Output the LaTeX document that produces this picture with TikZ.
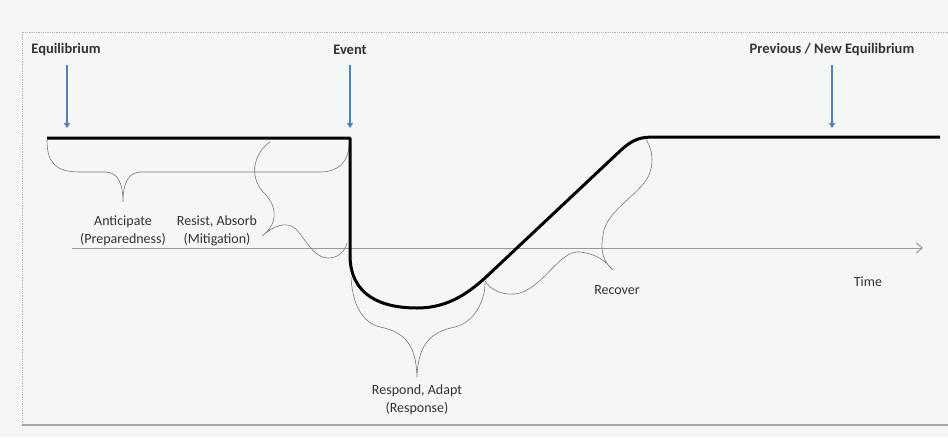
\documentclass[tikz,border=0pt]{standalone}
\usepackage{fontspec}
\setmainfont{Carlito}
\usetikzlibrary{arrows.meta}
\definecolor{bg}{RGB}{245,246,246}
\definecolor{arrowblue}{RGB}{79,129,189}
\definecolor{bracegray}{RGB}{120,120,120}
\definecolor{txtgray}{RGB}{50,50,50}
\begin{document}
\begin{tikzpicture}[x=1pt,y=-1pt,
  toplabel/.style={font=\fontsize{14.5}{16}\selectfont\bfseries, text=txtgray, inner sep=0pt, anchor=center},
  phaselabel/.style={font=\fontsize{14}{18}\selectfont, text=txtgray, inner sep=0pt, align=center, anchor=center},
  bluearrow/.style={draw=arrowblue, line width=1.3pt, -{Triangle[length=5pt,width=6pt]}},
  curve/.style={draw=black, line width=3pt, line join=round},
  bracestyle/.style={draw=bracegray, line width=0.6pt},
  axisstyle/.style={draw=gray!80, line width=1pt, -{Straight Barb[length=6pt,width=10pt]}},
  framedot/.style={draw=gray!60, line width=0.8pt, densely dotted}]
\useasboundingbox (0,0) rectangle (948,437);
\fill[bg] (0,0) rectangle (948,437);
% frame
\draw[framedot] (22,425) -- (22,32) -- (948,32);
\draw[draw=gray!70, line width=1.6pt] (22,425) -- (948,425);
% time axis
\coordinate (axL) at (72,248);
\coordinate (axR) at (923,248);
\draw[axisstyle] (axL) -- (axR);
% top labels and arrows
\node[toplabel] (equ) at (66,50) {Equilibrium};
\node[toplabel] (evt) at (350,50) {Event};
\node[toplabel] (neq) at (832,50) {Previous / New Equilibrium};
\coordinate (equT) at (67,128);
\coordinate (evtT) at (350,128);
\coordinate (neqT) at (832,128);
\draw[bluearrow] (67,65) -- (equT);
\draw[bluearrow] (350,65) -- (evtT);
\draw[bluearrow] (832,65) -- (neqT);
% braces
\draw[bracestyle] (47,140) .. controls (47,162) and (55,172) .. (80,172) -- (105,172)
  .. controls (117,172) and (123,182) .. (123,202)
  .. controls (123,182) and (129,172) .. (141,172) -- (320,172)
  .. controls (338,172) and (348,162) .. (349,146);
\draw[bracestyle] (270,142) .. controls (255,152) and (248,175) .. (263,192)
  .. controls (280,208) and (276,226) .. (262,236)
  .. controls (275,225) and (286,221) .. (296,229)
  .. controls (306,240) and (314,258) .. (328,258)
  .. controls (340,258) and (345,250) .. (347,243);
\draw[bracestyle] (351,277) .. controls (352,300) and (360,322) .. (380,327)
  .. controls (405,332) and (416,345) .. (417,377)
  .. controls (418,345) and (430,332) .. (455,327)
  .. controls (475,322) and (485,300) .. (485,283);
\draw[bracestyle] (485,281) .. controls (490,290) and (505,297) .. (520,293)
  .. controls (545,285) and (560,250) .. (580,252)
  .. controls (598,254) and (606,262) .. (613,270)
  .. controls (603,262) and (600,250) .. (603,235)
  .. controls (606,210) and (640,195) .. (649,175)
  .. controls (655,160) and (651,146) .. (646,140);
% main curve
\draw[curve] (47,138) -- (350,138) -- (350,255)
  .. controls (350,296) and (382,308) .. (417,308)
  .. controls (445,308) and (465,296) .. (485,278)
  -- (620,151) .. controls (633,139) and (640,137) .. (655,137) -- (940,137);
% phase labels
\node[phaselabel] (ant) at (123,231) {Anticipate\\(Preparedness)};
\node[phaselabel] (res) at (217,231) {Resist, Absorb\\(Mitigation)};
\node[phaselabel] (rsp) at (417,400) {Respond, Adapt\\(Response)};
\node[phaselabel] (rec) at (617,290) {Recover};
\node[phaselabel] (tim) at (868,282) {Time};
\end{tikzpicture}
\end{document}
